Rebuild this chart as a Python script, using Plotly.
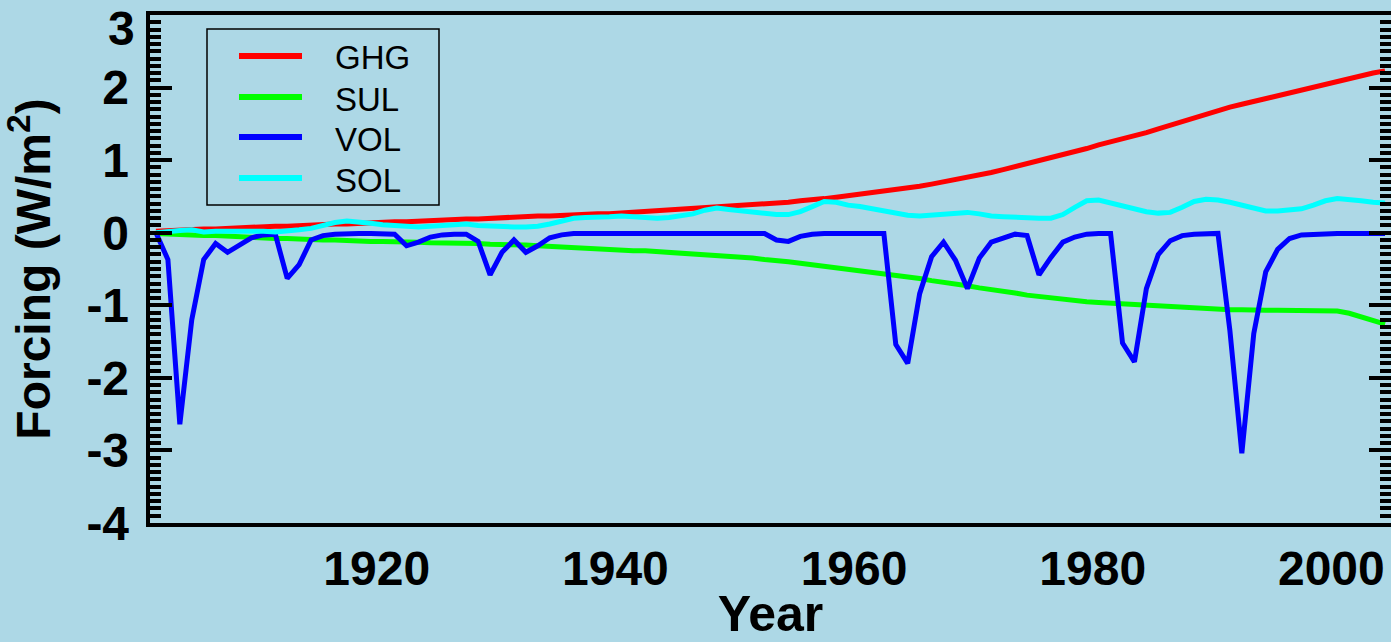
import plotly.graph_objects as go

# ---------------- data ----------------
years = list(range(1901, 2005))

ghg = [0.02, 0.03, 0.03, 0.04, 0.05, 0.05, 0.06, 0.07, 0.07, 0.08,
       0.09, 0.09, 0.10, 0.10, 0.11, 0.12, 0.12, 0.13, 0.13, 0.14,
       0.15, 0.15, 0.16, 0.17, 0.18, 0.18, 0.19, 0.19, 0.20, 0.21,
       0.21, 0.22, 0.23, 0.23, 0.24, 0.25, 0.25, 0.26, 0.26, 0.27,
       0.28, 0.29, 0.30, 0.31, 0.32, 0.33, 0.34, 0.35, 0.36, 0.38,
       0.39, 0.40, 0.41, 0.42, 0.44, 0.45, 0.47, 0.49, 0.51, 0.53,
       0.55, 0.57, 0.59, 0.61, 0.64, 0.67, 0.70, 0.73, 0.76, 0.79,
       0.83, 0.87, 0.91, 0.95, 0.99, 1.03, 1.07, 1.12, 1.16, 1.21,
       1.25, 1.29, 1.34, 1.38, 1.43, 1.48, 1.53, 1.58, 1.63, 1.69,
       1.73, 1.77, 1.81, 1.85, 1.89, 1.93, 1.97, 2.01, 2.05, 2.09,
       2.12, 2.16, 2.20, 2.23]

sul = [-0.01, -0.02, -0.02, -0.03, -0.04, -0.04, -0.05, -0.06, -0.06, -0.07,
       -0.08, -0.08, -0.09, -0.09, -0.10, -0.10, -0.11, -0.11, -0.12, -0.12,
       -0.12, -0.13, -0.13, -0.14, -0.14, -0.14, -0.15, -0.15, -0.16, -0.16,
       -0.17, -0.17, -0.18, -0.19, -0.20, -0.21, -0.21, -0.22, -0.23, -0.24,
       -0.25, -0.25, -0.26, -0.27, -0.28, -0.29, -0.30, -0.31, -0.32, -0.33,
       -0.35, -0.37, -0.38, -0.40, -0.42, -0.44, -0.46, -0.48, -0.51, -0.53,
       -0.55, -0.57, -0.59, -0.61, -0.63, -0.66, -0.68, -0.71, -0.73, -0.76,
       -0.78, -0.81, -0.83, -0.86, -0.88, -0.90, -0.92, -0.94, -0.95, -0.96,
       -0.97, -0.98, -0.99, -1.00, -1.01, -1.02, -1.03, -1.04, -1.05, -1.06,
       -1.06, -1.06, -1.07, -1.07, -1.07, -1.07, -1.07, -1.07, -1.07, -1.08,
       -1.11, -1.16, -1.21, -1.26]

vol = [0.00, -0.37, -2.64, -1.20, -0.37, -0.15, -0.27, -0.17, -0.07, -0.03,
       -0.02, -0.63, -0.44, -0.10, -0.04, -0.02, -0.01, -0.01, -0.01, -0.01,
       -0.02, -0.18, -0.13, -0.06, -0.03, -0.02, -0.02, -0.12, -0.58, -0.27,
       -0.10, -0.27, -0.18, -0.07, -0.03, -0.01, -0.01, -0.01, -0.01, -0.01,
       -0.01, -0.01, -0.01, -0.01, -0.01, -0.01, -0.01, -0.01, -0.01, -0.01,
       -0.01, -0.01, -0.10, -0.12, -0.05, -0.02, -0.01, -0.01, -0.01, -0.01,
       -0.01, -0.01, -1.54, -1.80, -0.84, -0.33, -0.13, -0.38, -0.77, -0.35,
       -0.13, -0.07, -0.02, -0.04, -0.58, -0.34, -0.13, -0.06, -0.02, -0.01,
       -0.01, -1.52, -1.78, -0.77, -0.30, -0.11, -0.04, -0.02, -0.01, -0.01,
       -1.35, -3.04, -1.39, -0.54, -0.23, -0.08, -0.03, -0.02, -0.01, -0.01,
       -0.01, -0.01, -0.01, -0.01]

sol = [0.00, 0.02, 0.03, 0.04, 0.01, 0.02, 0.02, 0.03, 0.02, 0.02,
       0.01, 0.02, 0.04, 0.06, 0.10, 0.14, 0.16, 0.15, 0.13, 0.11,
       0.10, 0.09, 0.08, 0.09, 0.10, 0.12, 0.12, 0.10, 0.09, 0.09,
       0.08, 0.08, 0.09, 0.12, 0.16, 0.20, 0.21, 0.21, 0.22, 0.23,
       0.22, 0.20, 0.20, 0.21, 0.23, 0.26, 0.31, 0.34, 0.32, 0.30,
       0.28, 0.27, 0.25, 0.25, 0.29, 0.36, 0.43, 0.42, 0.38, 0.36,
       0.33, 0.29, 0.26, 0.24, 0.23, 0.24, 0.26, 0.27, 0.28, 0.26,
       0.23, 0.22, 0.21, 0.21, 0.20, 0.20, 0.25, 0.35, 0.44, 0.45,
       0.41, 0.37, 0.33, 0.29, 0.27, 0.28, 0.35, 0.43, 0.46, 0.45,
       0.42, 0.38, 0.34, 0.30, 0.30, 0.31, 0.33, 0.38, 0.44, 0.47,
       0.46, 0.44, 0.42, 0.41]

series_names = ["GHG", "SUL", "VOL", "SOL"]
series_colors = ["#ff0000", "#00ff00", "#0000ff", "#00ffff"]
series_values = [ghg, sul, vol, sol]

x_tickvals = [1920, 1940, 1960, 1980, 2000]
x_ticktext = ["1920", "1940", "1960", "1980", "2000"]
y_tickvals = [-4, -3, -2, -1, 0, 1, 2, 3]
y_ticktext = ["-4", "-3", "-2", "-1", "0", "1", "2", "3"]

# ---------------- layout geometry ----------------
W, H = 1391, 642
ML, MR, MT, MB = 150, 0, 15, 119
PW, PH = W - ML - MR, H - MT - MB

def px2x(px):
    return (px - ML) / PW

def py2y(py):
    return (H - MB - py) / PH

FONT = "Liberation Sans, Arial, Helvetica, sans-serif"
BG = "#add8e6"

fig = go.Figure()
# annual means plotted at mid-year
xs = [y + 0.5 for y in years]
for name, col, vals in zip(series_names, series_colors, series_values):
    fig.add_trace(go.Scatter(x=xs, y=vals, mode="lines", name=name,
                             line=dict(color=col, width=5), showlegend=False))

# custom legend (box + long line samples + labels)
shapes = [dict(type="rect", xref="paper", yref="paper",
               x0=px2x(207), x1=px2x(439), y0=py2y(205), y1=py2y(29),
               line=dict(color="black", width=1.5), fillcolor="rgba(0,0,0,0)")]
annotations = []
leg_rows = [56, 97, 137, 178]
for name, col, row in zip(series_names, series_colors, leg_rows):
    shapes.append(dict(type="line", xref="paper", yref="paper",
                       x0=px2x(239), x1=px2x(302), y0=py2y(row), y1=py2y(row),
                       line=dict(color=col, width=6)))
    annotations.append(dict(xref="paper", yref="paper", x=px2x(333), y=py2y(row + 2),
                            xanchor="left", yanchor="middle", showarrow=False,
                            text=name, font=dict(family=FONT, size=33, color="black")))

# top y tick label placed just below the frame (as in the original)
annotations.append(dict(xref="paper", yref="y", x=0, y=y_tickvals[-1], xanchor="right",
                        yanchor="top", xshift=-13, yshift=15, showarrow=False,
                        text=y_ticktext[-1],
                        font=dict(family=FONT, size=48, color="black", weight="bold")))

# a non-breaking space after each y label keeps the gap to the axis line
y_labels_padded = [t + "\u00a0" for t in y_ticktext[:-1]]

fig.update_layout(
    width=W, height=H,
    margin=dict(l=ML, r=MR, t=MT, b=MB, autoexpand=False),
    paper_bgcolor=BG, plot_bgcolor=BG,
    shapes=shapes, annotations=annotations,
    showlegend=False,
    xaxis=dict(range=[1901, 2005], showgrid=False, zeroline=False, automargin=False,
               showline=True, linecolor="black", linewidth=4, mirror=True,
               ticks="", tickmode="array", tickvals=x_tickvals, ticktext=x_ticktext,
               tickfont=dict(family=FONT, size=48, color="black", weight="bold"),
               ticklabelstandoff=0,
               title=dict(text="Year", standoff=26,
                          font=dict(family=FONT, size=50, color="black", weight="bold"))),
    yaxis=dict(range=[-4, 3], showgrid=False, zeroline=False, automargin=False,
               showline=True, linecolor="black", linewidth=4, mirror="ticks",
               ticks="inside", ticklen=22, tickwidth=4, tickcolor="black",
               tickmode="array", tickvals=y_tickvals[:-1],
               ticktext=y_labels_padded,
               tickfont=dict(family=FONT, size=48, color="black", weight="bold"),
               ticklabelstandoff=-6,
               minor=dict(ticks="inside", ticklen=11, tickwidth=4, tickcolor="black",
                          tickmode="linear", tick0=0, dtick=0.1, showgrid=False),
               title=dict(text="Forcing (W/m<sup>2</sup>)", standoff=23,
                          font=dict(family=FONT, size=48, color="black", weight="bold"))),
)

# remove the page's default body margin so the figure fills the window
fig.write_html(
    "out.html",
    config={"displayModeBar": False},
    post_script=("document.body.style.margin='0';"
                 "document.body.style.overflow='hidden';"
                 "document.body.style.background='#add8e6';"),
)
